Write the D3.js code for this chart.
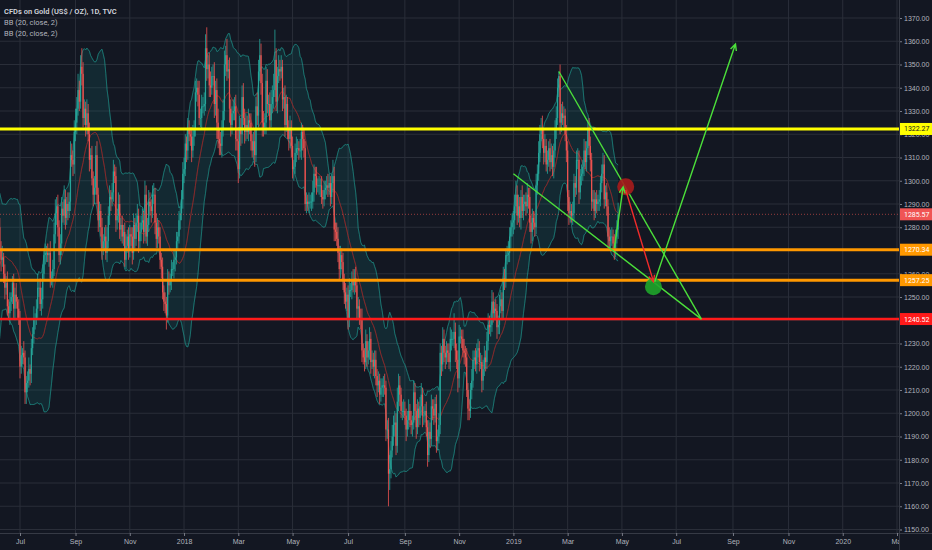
<!DOCTYPE html>
<html>
<head>
<meta charset="utf-8">
<title>Gold 1D</title>
<script src="https://cdn.jsdelivr.net/npm/d3@7"></script>
<style>
  body { margin: 0; background: #131722; }
  svg { display: block; font-family: Roboto, "Open Sans", sans-serif; }
</style>
</head>
<body>
<svg id="chart" width="932" height="550"></svg>
<script>
    var width = 932, height = 550;
    var plotRight = 899, plotBottom = 533;

    // daily closes, one weekday each, starting 2017-05-12 (first 20 only feed the bands)
    const closes = [
        1228,1230,1236,1259,1253,1254,1261,1251,1257,1256,1268,1266,1262,1268,1263,1280,1281,1293,1287,1280,   // May 12 - Jun 8 2017
        1271,1266,1267,1260,1254,1256,1246,1243,1248,1250,1256,1245,1251,1248,1245,1241,                       // Jun 2017
        1220,1225,1226,1224,1209,1213,1214,1219,1217,1228,1234,1241,1241,1245,1254,1254,1247,1249,1260,1268,1269, // Jul
        1269,1268,1269,1258,1258,1262,1277,1286,1289,1280,1268,1273,1288,1285,1292,1284,1290,1287,1291,1311,1309,1307,1321, // Aug
        1325,1331,1339,1334,1349,1346,1327,1331,1324,1329,1320,1309,1311,1301,1294,1297,1311,1294,1283,1287,1280, // Sep
        1271,1274,1276,1269,1274,1285,1293,1292,1295,1304,1302,1283,1285,1290,1279,1281,1276,1278,1266,1272,1276,1270, // Oct
        1277,1276,1269,1281,1275,1282,1285,1274,1278,1282,1283,1278,1294,1276,1281,1291,1289,1287,1294,1294,1282,1275, // Nov
        1280,1276,1266,1263,1252,1248,1247,1242,1257,1255,1257,1262,1262,1266,1267,1274,1276,1283,1286,1292,1303, // Dec
        1305,1316,1313,1322,1320,1319,1313,1319,1322,1338,1340,1337,1327,1327,1332,1332,1333,1357,1348,1350,1341,1340,1345, // Jan 2018
        1345,1333,1339,1325,1318,1316,1315,1322,1330,1350,1354,1347,1348,1331,1324,1329,1330,1332,1318,1317, // Feb
        1305,1323,1320,1336,1327,1321,1324,1321,1326,1325,1317,1313,1317,1311,1332,1328,1347,1354,1342,1325,1323,1325, // Mar
        1343,1333,1333,1326,1333,1336,1339,1352,1334,1345,1348,1347,1349,1335,1336,1324,1333,1322,1318,1323,1315, // Apr
        1305,1306,1312,1314,1314,1313,1313,1321,1318,1314,1290,1291,1290,1291,1291,1291,1295,1303,1302,1298,1298,1298,1298, // May
        1293,1292,1296,1297,1298,1297,1299,1293,1299,1302,1279,1278,1275,1269,1262,1268,1265,1257,1252,1248,1251, // Jun
        1241,1253,1253,1257,1255,1258,1255,1245,1246,1241,1240,1227,1224,1222,1231,1224,1227,1232,1222,1223,1220,1223, // Jul
        1216,1212,1214,1208,1211,1212,1212,1211,1193,1193,1174,1176,1184,1190,1195,1196,1186,1205,1212,1208,1201,1201,1201, // Aug
        1199,1193,1197,1201,1197,1195,1196,1209,1201,1194,1202,1198,1203,1208,1199,1199,1201,1194,1182,1192, // Sep
        1189,1203,1202,1199,1204,1188,1190,1195,1226,1221,1232,1226,1224,1227,1226,1222,1232,1232,1232,1235,1227,1223,1215, // Oct
        1233,1233,1232,1227,1226,1224,1210,1202,1201,1210,1214,1223,1224,1221,1227,1228,1222,1222,1214,1219,1224,1222, // Nov
        1231,1238,1237,1238,1248,1243,1245,1244,1237,1238,1246,1249,1244,1258,1257,1268,1268,1269,1276,1280,1282, // Dec
        1283,1289,1294,1285,1289,1284,1293,1287,1290,1291,1289,1294,1293,1282,1278,1284,1282,1280,1298,1303,1312,1320,1322, // Jan 2019
        1318,1312,1315,1307,1309,1314,1308,1311,1306,1313,1322,1327,1340,1345,1325,1329,1327,1328,1320,1313, // Feb
        1293,1286,1287,1285,1286,1299,1297,1309,1309,1295,1302,1303,1306,1313,1308,1314,1322,1315,1309,1291,1292, // Mar
        1287,1292,1290,1291,1292,1299,1303,1307,1292,1295,1289,1276,1274,1276,1276,1273,1271,1276,1279,1285.57  // Apr
    ];
    // how far high and low reach past the candle body
    const wickUp = [
        3,4,5,6,4,3,5,2,4,3,6,4,3,5,4,3,4,5,6,3,
        4,3,5,2,4,3,5,3,4,2,3,4,3,5,2,4,
        3,4,2,5,3,3,4,5,2,4,3,5,2,4,6,3,4,5,4,3,4,
        3,4,2,5,3,4,5,6,4,5,3,4,5,3,6,4,3,5,4,6,5,4,5,
        6,5,7,4,5,8,5,4,3,6,4,5,3,4,3,5,4,6,3,4,3,
        4,3,4,5,6,4,5,3,4,5,3,4,3,5,4,3,4,3,4,5,3,4,
        4,3,4,5,3,4,5,3,4,3,5,4,6,4,3,5,4,3,4,5,3,4,
        4,3,4,3,4,3,4,3,5,4,3,4,3,4,3,4,2,4,3,4,5,
        5,4,3,5,4,3,4,5,4,5,4,3,6,4,5,4,5,6,9,4,5,6,4,
        5,6,4,5,6,4,5,4,5,6,4,7,4,5,4,3,5,4,5,4,
        6,5,4,5,6,4,5,4,5,3,4,3,4,5,4,6,5,7,5,4,5,4,
        6,5,4,5,6,5,7,13,5,4,6,4,5,3,4,5,4,3,4,5,3,
        4,3,4,5,4,3,5,4,3,4,3,4,3,4,3,4,5,4,3,4,3,4,3,
        4,3,4,3,4,5,4,3,4,7,4,3,4,5,3,4,3,4,3,4,3,
        4,5,3,4,5,4,5,3,4,3,4,5,3,4,5,3,4,5,3,4,3,4,
        4,3,4,3,4,3,4,5,3,4,5,6,4,5,4,5,4,6,5,4,3,4,5,
        4,3,4,5,3,4,3,5,4,3,4,3,4,5,3,4,3,4,3,5,
        4,5,3,4,3,4,3,5,4,3,5,4,3,4,3,4,5,4,3,8,4,3,4,
        5,4,3,4,5,3,4,3,4,3,5,4,3,4,3,4,3,4,3,4,5,3,
        4,5,4,3,5,4,3,4,3,4,5,4,3,5,4,3,4,5,4,3,4,
        4,5,6,4,5,4,3,5,4,3,4,5,3,4,3,4,3,4,5,4,5,4,5,
        6,4,5,3,4,3,4,5,4,3,4,5,4,2,5,4,5,4,3,4,
        4,3,4,3,5,4,3,4,5,4,3,4,3,5,4,3,4,5,4,3,4,
        4,3,4,3,4,3,4,5,4,3,4,3,4,3,4,3,4,3,4,5
    ];
    const wickDown = [
        4,3,5,3,4,5,3,4,5,3,4,3,5,4,3,4,5,3,4,5,
        4,5,3,4,5,3,4,3,5,4,3,4,5,3,4,3,
        5,3,4,3,5,5,4,3,5,4,3,4,5,3,4,4,3,5,4,3,4,
        4,3,5,4,3,4,3,4,5,4,3,4,5,3,4,5,3,4,3,4,3,5,4,
        4,5,3,4,3,5,4,3,5,4,3,5,4,3,5,4,3,4,5,3,4,
        5,3,4,3,4,3,4,5,3,4,3,5,4,3,4,5,3,4,3,4,3,4,
        3,4,5,3,4,3,4,5,3,4,3,5,4,3,4,3,4,5,3,4,5,4,
        4,3,4,5,3,4,4,6,3,4,3,4,3,4,5,3,4,3,4,3,4,
        4,3,5,4,3,4,5,3,4,3,4,5,3,4,5,3,4,3,5,4,5,4,3,
        4,6,5,7,4,5,4,5,3,4,5,4,3,6,5,4,3,4,5,4,
        6,4,5,4,3,5,4,3,4,5,4,3,4,5,3,4,5,4,5,6,4,3,
        5,4,5,4,3,4,5,3,4,5,3,4,3,5,4,5,3,4,5,4,5,
        4,5,3,4,3,4,3,4,5,4,3,4,3,4,3,4,3,4,5,4,3,4,5,
        3,4,3,4,3,4,3,4,3,4,5,4,3,4,5,4,3,4,5,3,4,
        5,4,3,4,3,4,3,5,4,3,4,5,3,4,3,4,3,4,5,3,4,5,
        4,5,3,4,3,4,5,3,5,4,14,7,4,3,4,5,4,3,4,5,3,4,3,
        4,5,3,4,3,4,5,3,4,5,3,4,3,4,5,4,3,4,5,3,
        4,3,5,4,3,5,4,3,4,5,3,4,5,3,4,3,4,5,3,4,5,4,6,
        4,3,4,3,5,4,3,5,4,3,4,3,4,3,4,3,4,3,5,4,3,4,
        3,4,3,4,3,4,3,4,5,3,4,3,4,3,4,3,4,3,4,5,4,
        5,4,3,4,3,4,5,3,4,3,4,3,5,4,5,4,3,4,3,4,3,4,3,
        4,5,4,3,4,3,4,3,4,5,3,4,3,4,5,4,3,4,3,5,
        6,5,4,3,4,3,4,3,4,5,3,4,3,4,3,4,3,4,5,4,3,
        4,3,4,3,4,3,4,3,4,3,4,5,4,3,4,3,5,4,3,4
    ];

    // bottom axis
    const tickMonths = ["2017-07","2017-09","2017-11","2018-01","2018-03","2018-05","2018-07","2018-09","2018-11",
                        "2019-01","2019-03","2019-05","2019-07","2019-09","2019-11","2020-01","2020-03"];
    const tickLabels = ["Jul","Sep","Nov","2018","Mar","May","Jul","Sep","Nov","2019","Mar","May","Jul","Sep","Nov","2020","Mar"];

    // horizontal levels and their tags
    const levels = [1322.27, 1270.34, 1257.25, 1240.52];
    const levelColors = ["#ffff00", "#ff9800", "#ff9800", "#ff1a1a"];
    const levelText = ["#131722", "#ffffff", "#ffffff", "#ffffff"];
    const lastPrice = 1285.57;

    // hand drawn lines: [date, price]
    const wedge = [
        [["2019-02-20", 1347.0], ["2019-07-29", 1240.5]],
        [["2019-01-01", 1303.0], ["2019-07-29", 1240.5]]
    ];
    const arrows = [
        {c: "#4be03a", p: [["2019-04-23", 1271.0], ["2019-05-02", 1297.4]]},
        {c: "#f02b2b", p: [["2019-05-06", 1296.0], ["2019-06-05", 1256.6]]},
        {c: "#4be03a", p: [["2019-06-06", 1256.6], ["2019-09-04", 1358.8]]}
    ];
    const dots = [
        {c: "#a81c1c", p: ["2019-05-06", 1297.4]},
        {c: "#1fa52a", p: ["2019-06-05", 1254.4]}
    ];

    // one slot per weekday, like the chart's bar index
    var days = [];
    for (var d = new Date(Date.UTC(2017, 4, 12)); d <= new Date(Date.UTC(2020, 3, 30)); d.setUTCDate(d.getUTCDate() + 1)) {
        var wd = d.getUTCDay();
        if (wd != 0 && wd != 6) days.push(new Date(d));
    }
    var fmt = d3.utcFormat("%Y-%m-%d");
    var dayIndex = new Map(days.map((dd, i) => [fmt(dd), i]));

    var x = d3.scaleLinear()
        .domain([dayIndex.get("2017-07-03"), dayIndex.get("2020-03-02")])
        .range([20, 897]);
    var y = d3.scaleLinear().domain([1150, 1370]).range([529.5, 18]);
    var px = p => x(dayIndex.get(p[0]));
    var py = p => y(p[1]);

    var candles = closes.map(function(c, i) {
        var o = i ? closes[i-1] : c;
        return {i: i, o: o, c: c, h: Math.max(o, c) + wickUp[i], l: Math.min(o, c) - wickDown[i]};
    });

    // Bollinger bands (20, close, 2)
    function bollinger(vals, len, mult) {
        var out = [];
        for (var i = len - 1; i < vals.length; i++) {
            var win = vals.slice(i - len + 1, i + 1);
            var m = d3.mean(win);
            var sd = Math.sqrt(d3.mean(win, v => (v - m) * (v - m)));
            out.push({i: i, m: m, up: m + mult * sd, lo: m - mult * sd});
        }
        return out;
    }
    var bbSettings = [[20, 2], [20, 2]];

    var svg = d3.select("#chart");
    svg.append("rect").attr("width", width).attr("height", height).attr("fill", "#131722");

    svg.append("defs").append("clipPath").attr("id", "plot")
        .append("rect").attr("x", 0).attr("y", 0).attr("width", plotRight).attr("height", plotBottom);

    var plot = svg.append("g").attr("clip-path", "url(#plot)");

    // grid
    var priceTicks = d3.range(1150, 1371, 10);
    var tickIdx = tickMonths.map(m => days.findIndex(dd => fmt(dd).startsWith(m)));
    plot.append("g").selectAll("line").data(priceTicks).enter().append("line")
        .attr("x1", 0).attr("x2", plotRight)
        .attr("y1", d => y(d)).attr("y2", d => y(d))
        .attr("stroke", "#2a2e39").attr("stroke-width", 1);
    plot.append("g").selectAll("line").data(tickIdx).enter().append("line")
        .attr("x1", d => x(d)).attr("x2", d => x(d))
        .attr("y1", 0).attr("y2", plotBottom)
        .attr("stroke", "#2a2e39").attr("stroke-width", 1);

    // bands
    bbSettings.forEach(function(s) {
        var bb = bollinger(closes, s[0], s[1]);
        plot.append("path").datum(bb)
            .attr("d", d3.area().x(d => x(d.i)).y0(d => y(d.lo)).y1(d => y(d.up)))
            .attr("fill", "rgba(25,135,135,0.09)");
        ["up", "lo"].forEach(function(k) {
            plot.append("path").datum(bb)
                .attr("d", d3.line().x(d => x(d.i)).y(d => y(d[k])))
                .attr("fill", "none").attr("stroke", "rgba(32,150,140,0.55)").attr("stroke-width", 0.8);
        });
        plot.append("path").datum(bb)
            .attr("d", d3.line().x(d => x(d.i)).y(d => y(d.m)))
            .attr("fill", "none").attr("stroke", "rgba(160,40,40,0.7)").attr("stroke-width", 0.8);
    });

    // candles
    var cg = plot.append("g");
    cg.selectAll("line").data(candles).enter().append("line")
        .attr("x1", d => x(d.i)).attr("x2", d => x(d.i))
        .attr("y1", d => y(d.h)).attr("y2", d => y(d.l))
        .attr("stroke", d => d.c >= d.o ? "#26a69a" : "#ef5350").attr("stroke-width", 0.8);
    cg.selectAll("rect").data(candles).enter().append("rect")
        .attr("x", d => x(d.i) - 0.6).attr("width", 1.2)
        .attr("y", d => y(Math.max(d.o, d.c)))
        .attr("height", d => Math.max(0.8, Math.abs(y(d.o) - y(d.c))))
        .attr("fill", d => d.c >= d.o ? "#26a69a" : "#ef5350");

    // last price dotted line
    plot.append("line").attr("x1", 0).attr("x2", plotRight)
        .attr("y1", y(lastPrice)).attr("y2", y(lastPrice))
        .attr("stroke", "#ef5350").attr("stroke-opacity", 0.6).attr("stroke-dasharray", "1,2");

    // horizontal levels
    plot.append("g").selectAll("line").data(levels).enter().append("line")
        .attr("x1", 0).attr("x2", plotRight)
        .attr("y1", d => y(d)).attr("y2", d => y(d))
        .attr("stroke", (d, i) => levelColors[i])
        .attr("stroke-width", (d, i) => i == 3 ? 2.5 : 3);

    // wedge
    wedge.forEach(function(w) {
        plot.append("line")
            .attr("x1", px(w[0])).attr("y1", py(w[0])).attr("x2", px(w[1])).attr("y2", py(w[1]))
            .attr("stroke", "#4be03a").attr("stroke-width", 1.4);
    });

    // dots
    dots.forEach(function(o) {
        plot.append("circle").attr("cx", px(o.p)).attr("cy", py(o.p)).attr("r", 8.5)
            .attr("fill", o.c).attr("fill-opacity", 0.9);
    });

    // arrows
    arrows.forEach(function(a) {
        var x1 = px(a.p[0]), y1 = py(a.p[0]), x2 = px(a.p[1]), y2 = py(a.p[1]);
        var ang = Math.atan2(y2 - y1, x2 - x1), len = 7, spread = 0.45;
        plot.append("path")
            .attr("d", "M" + x1 + "," + y1 + "L" + x2 + "," + y2 +
                "M" + (x2 - len * Math.cos(ang - spread)) + "," + (y2 - len * Math.sin(ang - spread)) +
                "L" + x2 + "," + y2 +
                "L" + (x2 - len * Math.cos(ang + spread)) + "," + (y2 - len * Math.sin(ang + spread)))
            .attr("fill", "none").attr("stroke", a.c).attr("stroke-width", 1.4);
    });

    // right price axis
    var yAxis = svg.append("g").attr("transform", "translate(" + plotRight + ",0)")
        .call(d3.axisRight(y).tickValues(priceTicks).tickFormat(d3.format(".2f")).tickSize(3).tickPadding(2));
    yAxis.select(".domain").attr("stroke", "#363a45");
    yAxis.selectAll(".tick line").attr("stroke", "#787b86");
    yAxis.selectAll("text").attr("fill", "#b2b5be").style("font-size", "7px");

    // bottom time axis
    var xAxis = svg.append("g").attr("transform", "translate(0," + plotBottom + ")")
        .call(d3.axisBottom(x).tickValues(tickIdx).tickFormat((d, k) => tickLabels[k]).tickSize(3).tickPadding(3));
    xAxis.select(".domain").attr("d", "M0,0.5H" + width).attr("stroke", "#363a45");
    xAxis.selectAll(".tick line").attr("stroke", "#787b86");
    xAxis.selectAll("text").attr("fill", "#b2b5be").style("font-size", "7px");
    // the price scale sits over the last label
    svg.append("rect").attr("x", plotRight + 0.5).attr("y", plotBottom + 1).attr("width", width - plotRight).attr("height", height - plotBottom)
        .attr("fill", "#131722");
    svg.append("line").attr("x1", plotRight + 0.5).attr("x2", plotRight + 0.5).attr("y1", 0).attr("y2", height)
        .attr("stroke", "#363a45");

    // price tags
    var tags = levels.map((v, i) => ({v: v, bg: levelColors[i], fg: levelText[i]}));
    tags.splice(1, 0, {v: lastPrice, bg: "#f05454", fg: "#ffffff"});
    var tg = svg.append("g").selectAll("g").data(tags).enter().append("g")
        .attr("transform", d => "translate(" + (plotRight + 1) + "," + y(d.v) + ")");
    tg.append("rect").attr("x", 0).attr("y", -6).attr("width", width - plotRight).attr("height", 12)
        .attr("fill", d => d.bg);
    tg.append("text").attr("x", 4).attr("y", 2.5).text(d => d3.format(".2f")(d.v))
        .attr("fill", d => d.fg).style("font-size", "7px");

    // legend
    var legend = ["CFDs on Gold (US$ / OZ), 1D, TVC", "BB (20, close, 2)", "BB (20, close, 2)"];
    svg.append("g").selectAll("text").data(legend).enter().append("text")
        .attr("x", 4).attr("y", (d, i) => 13.5 + i * 11.3)
        .text(d => d)
        .attr("fill", (d, i) => i == 0 ? "#d1d4dc" : "#b2b5be")
        .style("font-size", "7.5px")
        .style("font-weight", (d, i) => i == 0 ? 600 : 400);
</script>
</body>
</html>
